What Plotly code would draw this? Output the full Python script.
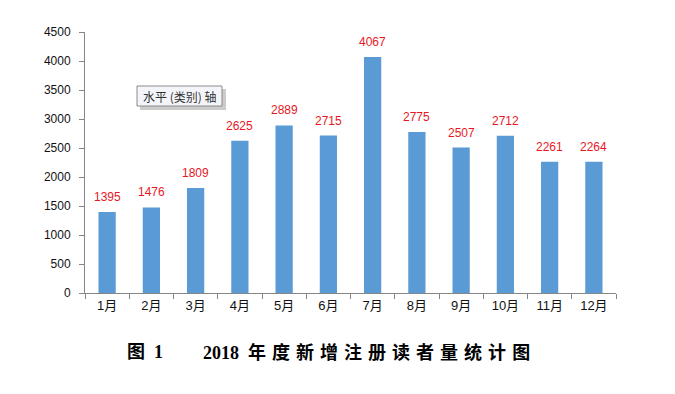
import plotly.graph_objects as go

months = ["1月", "2月", "3月", "4月", "5月", "6月", "7月", "8月", "9月", "10月", "11月", "12月"]
readers = [1395, 1476, 1809, 2625, 2889, 2715, 4067, 2775, 2507, 2712, 2261, 2264]
y_ticks = [0, 500, 1000, 1500, 2000, 2500, 3000, 3500, 4000, 4500]
caption_num = "图 1"
caption_title = "2018 年度新增注册读者量统计图"

OFF = 8  # page body margin
W, H = 675 - OFF, 394 - OFF
L, R, T, B = 85, 616, 32, 293  # plot area in screen coords


def px(x):
    return (x - L) / (R - L)


def py(y):
    return (B - y) / (B - T)


fig = go.Figure()
fig.add_trace(go.Bar(
    x=months, y=readers,
    marker=dict(color="#5B9BD5", line=dict(width=0)),
    cliponaxis=False,
))

for m, v in zip(months, readers):
    fig.add_annotation(
        x=m, y=v, xref="x", yref="y", text=str(v), showarrow=False,
        yanchor="middle", yshift=15,
        font=dict(color="#E8171F", size=12, family="Liberation Sans"),
    )

fig.update_layout(
    width=W, height=H,
    margin=dict(l=L - OFF, r=W - (R - OFF), t=T - OFF, b=H - (B - OFF), autoexpand=False),
    paper_bgcolor="white", plot_bgcolor="white",
    bargap=0.61,
    showlegend=False,
    font=dict(family="Liberation Sans, Noto Sans CJK SC", size=12, color="#222222"),
    xaxis=dict(
        type="category", showline=True, linecolor="#868686", linewidth=1,
        ticks="outside", tickson="boundaries", ticklen=5, tickcolor="#868686",
        showgrid=False, automargin=False,
        tickfont=dict(size=13, color="#111111", family="Liberation Sans, Noto Sans CJK SC"),
    ),
    yaxis=dict(
        range=[0, 4500], tickvals=y_ticks, showline=True, linecolor="#868686",
        linewidth=1, ticks="outside", ticklen=5, tickcolor="#868686",
        showgrid=False, zeroline=False, automargin=False, ticklabelstandoff=6,
        tickfont=dict(size=12, color="#111111", family="Liberation Sans"),
    ),
)

# tooltip-like box with shadow
fig.add_shape(type="rect", xref="paper", yref="paper",
              x0=px(140), x1=px(226), y0=py(110), y1=py(89),
              fillcolor="#a0a0a0", line=dict(width=0), opacity=0.55, layer="above")
fig.add_shape(type="rect", xref="paper", yref="paper",
              x0=px(137), x1=px(222), y0=py(106), y1=py(86),
              fillcolor="#F4F5FA", line=dict(width=1, color="#8a8a8a"), layer="above")
fig.add_annotation(
    xref="paper", yref="paper",
    x=px(179.5), y=py(96), xanchor="center", yanchor="middle",
    text="水平 (类别) 轴", showarrow=False,
    font=dict(size=12, color="#333333", family="Noto Sans CJK SC"),
)

sep = "\u200a\u200a\u200a\u200a"
num_part, cn_part = caption_title.split(" ")
title_txt = num_part + "\u00a0\u00a0" + sep.join(list(cn_part))
fig.add_annotation(
    xref="paper", yref="paper",
    x=px(125), y=py(352), xanchor="left", yanchor="middle",
    text="<b>" + caption_num.replace(" ", "\u00a0\u00a0") + "</b>", showarrow=False,
    font=dict(size=18, color="#000000", family="Liberation Serif, Noto Sans CJK SC"),
)
fig.add_annotation(
    xref="paper", yref="paper",
    x=px(201), y=py(352), xanchor="left", yanchor="middle",
    text="<b>" + title_txt + "</b>", showarrow=False,
    font=dict(size=18, color="#000000", family="Liberation Serif, Noto Sans CJK SC"),
)

fig.write_html("out.html")
